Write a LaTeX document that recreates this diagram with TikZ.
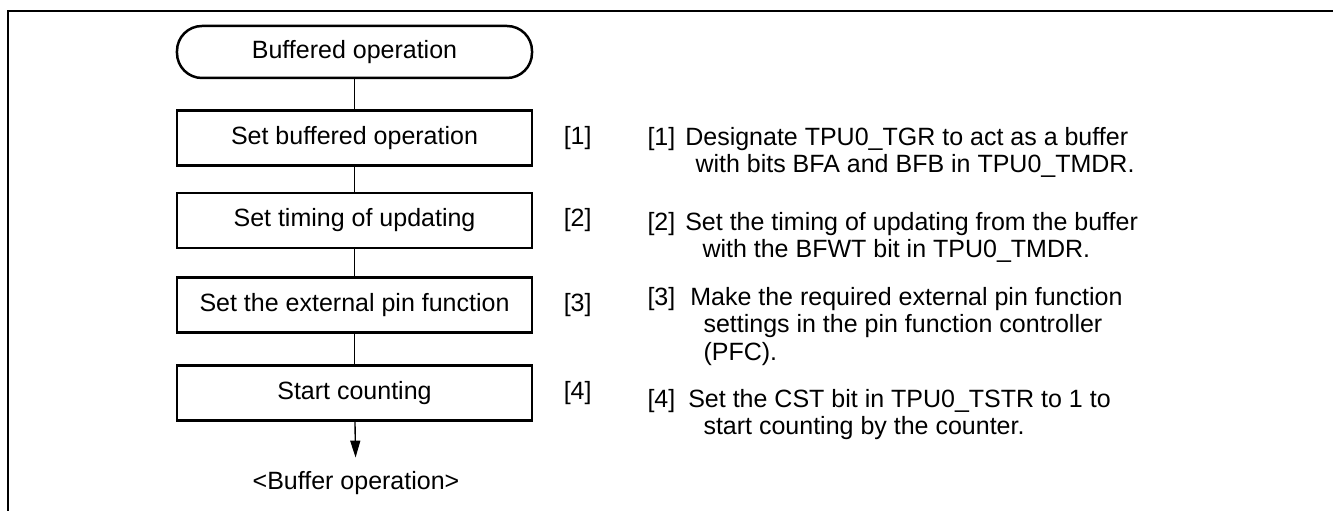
\documentclass[tikz,border=0pt]{standalone}
\usepackage{fontspec}
\setmainfont{Liberation Sans}
\usetikzlibrary{arrows.meta,positioning}

\begin{document}
\begin{tikzpicture}[x=0.4pt, y=0.4pt, every node/.style={font=\fontsize{10}{11}\selectfont}, >={Triangle[length=6.8pt,width=4pt]},
	terminal/.style={draw, line width=1pt, rounded corners=10pt, minimum width=142pt, minimum height=20.8pt, inner sep=0pt},
	stepbox/.style={draw, line width=1pt, minimum width=142pt, minimum height=22pt, inner sep=0pt},
	tag/.style={inner sep=0pt},
	note/.style={anchor=north west, align=left, inner sep=0pt},
	link/.style={line width=0.55pt}]
	\useasboundingbox (0,0) rectangle (1333,511);
	% frame
	\draw[line width=0.9pt] (8,0) -- (8,500) -- (1333,500);
	% flow
	\node[terminal] (start) at (354.5,459) {Buffered operation};
	\node[stepbox] (s1) at (354.5,373) {Set buffered operation};
	\node[stepbox] (s2) at (354.5,290.5) {Set timing of updating};
	\node[stepbox] (s3) at (354.5,206) {Set the external pin function};
	\node[stepbox] (s4) at (354.5,118) {Start counting};
	\node[inner sep=5.5pt] (bufop) at (356,27.5) {<Buffer operation>};
	\draw[link] (start) -- (s1);
	\draw[link] (s1) -- (s2);
	\draw[link] (s2) -- (s3);
	\draw[link] (s3) -- (s4);
	\draw[link, ->] (s4) -- (bufop);
	% step tags
	\node[tag, right=12pt of s1] (t1) {[1]};
	\node[tag, right=12pt of s2] (t2) {[2]};
	\node[tag, right=12pt of s3] (t3) {[3]};
	\node[tag, right=12pt of s4] (t4) {[4]};
	% notes
	\node[note] (n1) at (647,384.3) {[1]\hspace{4pt}Designate TPU0\_TGR to act as a buffer\\\hspace*{19.2pt}with bits BFA and BFB in TPU0\_TMDR.};
	\node[note] (n2) at (647,299.3) {[2]\hspace{4pt}Set the timing of updating from the buffer\\\hspace*{22pt}with the BFWT bit in TPU0\_TMDR.};
	\node[note] (n3) at (647,224.3) {[3]\hspace{6pt}Make the required external pin function\\\hspace*{22.4pt}settings in the pin function controller\\\hspace*{22.4pt}(PFC).};
	\node[note] (n4) at (647,122.3) {[4]\hspace{5.2pt}Set the CST bit in TPU0\_TSTR to 1 to\\\hspace*{22.4pt}start counting by the counter.};
\end{tikzpicture}
\end{document}
